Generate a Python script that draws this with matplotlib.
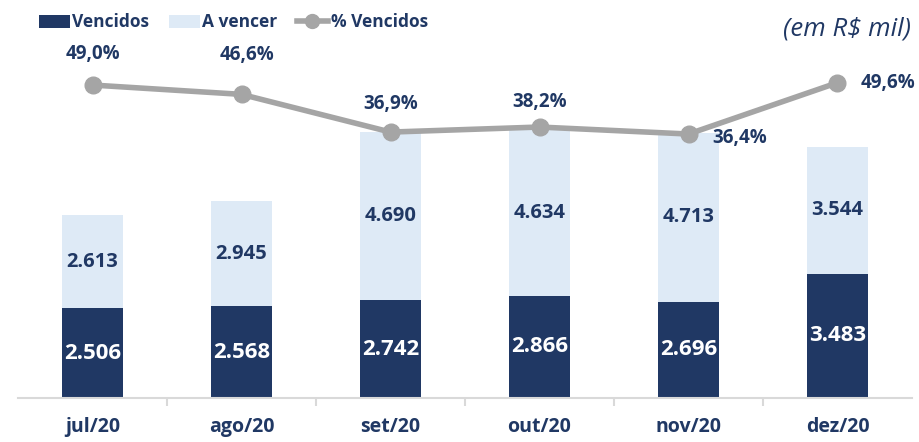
import matplotlib
matplotlib.use('Agg')
import matplotlib.pyplot as plt
from matplotlib.patches import Patch
from matplotlib.lines import Line2D

plt.rcParams['font.family'] = ['Open Sans', 'DejaVu Sans']

months = ['jul/20', 'ago/20', 'set/20', 'out/20', 'nov/20', 'dez/20']
vencidos = [2506, 2568, 2742, 2866, 2696, 3483]
a_vencer = [2613, 2945, 4690, 4634, 4713, 3544]
pct_vencidos = [49.0, 46.6, 36.9, 38.2, 36.4, 49.6]

NAVY = '#203864'
LIGHT = '#DEEAF6'
GRAY = '#A5A5A5'


def fmt_thousand(v):
    return f'{v:,}'.replace(',', '.')


def fmt_pct(p):
    return f'{p:.1f}%'.replace('.', ',')


fig = plt.figure(figsize=(9.2, 4.42), dpi=100)
ax = fig.add_axes([0.0196, 0.0995, 0.9717, 0.855])
x = list(range(len(months)))

ax.bar(x, vencidos, width=0.405, color=NAVY, zorder=2)
ax.bar(x, a_vencer, width=0.405, bottom=vencidos, color=LIGHT, zorder=2)

for i in x:
    ax.text(i, vencidos[i] / 2, fmt_thousand(vencidos[i]), ha='center', va='center',
            color='white', fontsize=16, fontweight='bold', zorder=3)
    ax.text(i, vencidos[i] + a_vencer[i] / 2, fmt_thousand(a_vencer[i]), ha='center',
            va='center', color=NAVY, fontsize=14.5, fontweight='bold', zorder=3)

ax.set_xlim(-0.5, len(months) - 0.5)
ax.set_ylim(0, 10573)
ax.set_yticks([])
for s in ['top', 'right', 'left']:
    ax.spines[s].set_visible(False)
ax.spines['bottom'].set_color('#D9D9D9')
ax.spines['bottom'].set_linewidth(1.5)
ax.set_xticks(x)
ax.set_xticklabels(months, fontsize=14, fontweight='bold', color=NAVY)
ax.tick_params(axis='x', length=0, pad=14)
# boundary tick marks between categories
ax.set_xticks([i + 0.5 for i in x[:-1]], minor=True)
ax.tick_params(axis='x', which='minor', length=6, width=1.5, color='#D9D9D9')

ax2 = ax.twinx()
ax2.set_ylim(-31.5, 65.7)
ax2.axis('off')
ax2.plot(x, pct_vencidos, color=GRAY, linewidth=4, marker='o', markersize=12,
         zorder=4)

# label offsets in points (dx, dy) and alignment
offsets = [(0, 22, 'center'), (4, 28, 'center'), (0, 20, 'center'),
           (0, 18, 'center'), (17, -2.5, 'left'), (17, 0, 'left')]
for i, p in enumerate(pct_vencidos):
    dx, dy, ha = offsets[i]
    ax2.annotate(fmt_pct(p), (i, p), xytext=(dx, dy), textcoords='offset points',
                 ha=ha, va='center', color=NAVY, fontsize=13.5, fontweight='bold')

handles = [Patch(facecolor=NAVY), Patch(facecolor=LIGHT),
           Line2D([], [], color=GRAY, linewidth=4, marker='o', markersize=10)]
leg = fig.legend(handles, ['Vencidos', 'A vencer', '% Vencidos'], loc='upper left',
                 bbox_to_anchor=(0.025, 1.005), ncol=3, frameon=False, fontsize=12.5,
                 handlelength=1.8, handleheight=0.72, handletextpad=0.15,
                 columnspacing=1.1)
for t in leg.get_texts():
    t.set_color(NAVY)
    t.set_fontweight('bold')

fig.text(0.99, 0.935, '(em R$ mil)', ha='right', va='center', fontsize=18.5,
         style='italic', color=NAVY)

fig.savefig('out.png', dpi=100)
